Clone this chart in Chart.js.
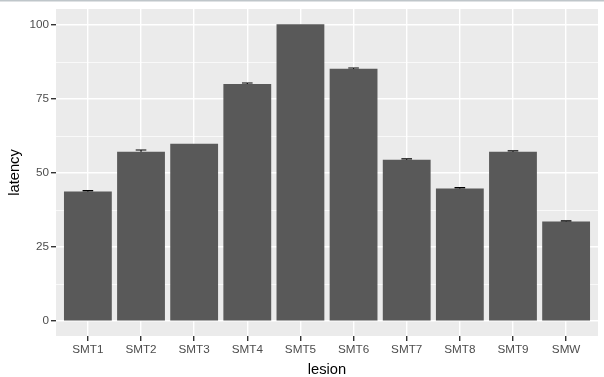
<!DOCTYPE html>
<html>
<head>
<meta charset="utf-8">
<script src="https://cdn.jsdelivr.net/npm/chart.js@4"></script>
<style>
  body { margin: 0; background: #fff; }
</style>
</head>
<body>
<canvas id="ourChart" width="604" height="377"></canvas>
<script>
let lesions = ['SMT1', 'SMT2', 'SMT3', 'SMT4', 'SMT5', 'SMT6', 'SMT7', 'SMT8', 'SMT9', 'SMW'];
let latency = [43.8, 57.2, 59.9, 80.1, 100.3, 85.2, 54.5, 44.8, 57.2, 33.7];
let latencySe = [0.3, 0.6, 0, 0.3, 0, 0.3, 0.3, 0.3, 0.3, 0.2];
let yTicks = [0, 12.5, 25, 37.5, 50, 62.5, 75, 87.5, 100];

let fontFamily = '"Liberation Sans", Arial, sans-serif';

// grey panel + thin line at the very top of the picture
let panelBg = {
    id: 'panelBg',
    beforeDraw(chart) {
        let a = chart.chartArea, c = chart.ctx;
        c.save();
        c.fillStyle = '#EBEBEB';
        c.fillRect(a.left, a.top, a.right - a.left, a.bottom - a.top);
        c.fillStyle = '#BFC6CA';
        c.fillRect(0, 0, chart.width, 1.5);
        c.restore();
    }
};

// error bars, drawn under the bars like ggplot does
let errorBars = {
    id: 'errorBars',
    beforeDatasetsDraw(chart) {
        let x = chart.scales.x, y = chart.scales.y, c = chart.ctx;
        c.save();
        c.strokeStyle = '#000';
        c.lineWidth = 1.1;
        latency.forEach((v, i) => {
            if (!latencySe[i]) return;
            let cx = x.getPixelForValue(i + 1);
            let hw = x.getPixelForValue(i + 1.1) - cx;
            let top = y.getPixelForValue(v + latencySe[i]);
            let bot = y.getPixelForValue(v - latencySe[i]);
            c.beginPath();
            c.moveTo(cx - hw, top); c.lineTo(cx + hw, top);
            c.moveTo(cx, top); c.lineTo(cx, bot);
            c.moveTo(cx - hw, bot); c.lineTo(cx + hw, bot);
            c.stroke();
        });
        c.restore();
    }
};

new Chart(document.getElementById('ourChart'), {
    type: 'bar',
    data: {
        datasets: [
            {
                label: 'latency',
                data: lesions.map((l, i) => ({ x: i + 1, y: latency[i] })),
                backgroundColor: '#595959',
                borderWidth: 0,
                barPercentage: 0.9,
                categoryPercentage: 1.0,
            }
        ]
    },
    options: {
        responsive: false,
        animation: false,
        layout: { padding: { top: 8, right: 6, left: 0, bottom: 0 } },
        plugins: {
            legend: { display: false },
            tooltip: { enabled: false },
        },
        scales: {
            x: {
                type: 'linear',
                min: 0.4,
                max: 10.6,
                offset: false,
                afterBuildTicks: (s) => { s.ticks = lesions.map((l, i) => ({ value: i + 1 })); },
                afterFit: (s) => { s.height = 41; },
                border: { display: false },
                grid: {
                    offset: false,
                    color: '#FFFFFF',
                    lineWidth: 1.4,
                    tickColor: '#333333',
                    tickLength: 5,
                },
                ticks: {
                    autoSkip: false,
                    maxRotation: 0,
                    padding: 2,
                    color: '#4D4D4D',
                    font: { family: fontFamily, size: 11.7 },
                    callback: (v) => lesions[Math.round(v) - 1],
                },
                title: {
                    display: true,
                    text: 'lesion',
                    color: '#000',
                    padding: 0,
                    font: { family: fontFamily, size: 14.7, lineHeight: 1 },
                },
            },
            y: {
                min: -5.0,
                max: 105.4,
                afterBuildTicks: (s) => { s.ticks = yTicks.map(v => ({ value: v })); },
                afterFit: (s) => { s.width = 56; },
                border: { display: false },
                grid: {
                    color: '#FFFFFF',
                    lineWidth: (ctx) => ctx.tick && ctx.tick.value % 25 === 0 ? 1.4 : 0.7,
                    tickColor: (ctx) => ctx.tick && ctx.tick.value % 25 === 0 ? '#333333' : 'rgba(0,0,0,0)',
                    tickLength: 5,
                },
                ticks: {
                    padding: 2,
                    color: '#4D4D4D',
                    font: { family: fontFamily, size: 11.7 },
                    callback: (v) => v % 25 === 0 ? String(v) : '',
                },
                title: {
                    display: true,
                    text: 'latency',
                    color: '#000',
                    padding: { top: 7.5 },
                    font: { family: fontFamily, size: 14.7, lineHeight: 1 },
                },
            }
        }
    },
    plugins: [panelBg, errorBars]
});
</script>
</body>
</html>
